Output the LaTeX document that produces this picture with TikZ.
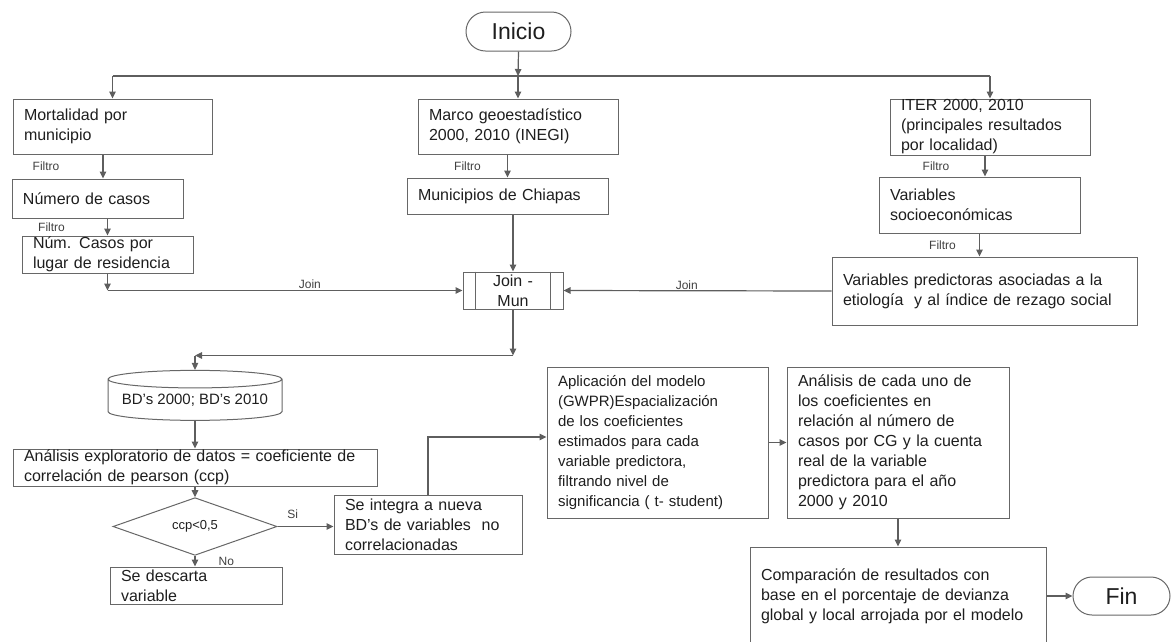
\documentclass[tikz,border=0pt]{standalone}
\usepackage{fontspec}
\setmainfont{Liberation Sans}
\usetikzlibrary{arrows.meta,shapes.geometric,shapes.misc,positioning,calc}
\definecolor{linea}{HTML}{5E5E5E}
\definecolor{borde}{HTML}{676767}
\definecolor{texto}{HTML}{1E1E1E}

\tikzset{
  caja/.style={draw=borde, line width=1pt, rectangle, inner xsep=11pt, inner ysep=0pt, align=left, text=texto, font=\fontsize{16}{20}\selectfont},
  terminal/.style={draw=borde, line width=1pt, rounded rectangle, inner sep=0pt, text=texto, font=\fontsize{23}{26}\selectfont},
  etiq/.style={text=texto!85, font=\fontsize{12}{14}\selectfont, inner sep=1pt},
  flecha/.style={-{Triangle[length=7pt,width=6.5pt]}, draw=linea, line width=1.2pt}
}

\begin{document}
\begin{tikzpicture}[x=1pt, y=-1pt]
    \useasboundingbox (0,0) rectangle (1172,641);
    \clip (0,0) rectangle (1172,641);

    % Inicio and the three sources
    \node[terminal, minimum width=105pt, minimum height=39pt] (inicio) at (518.5,31.5) {Inicio};
    \node[caja, text width=177pt, minimum height=55pt] (mort) at (112.5,126.5) {Mortalidad por\\municipio};
    \node[caja, text width=178pt, minimum height=55pt] (marco) at (518,126.5) {Marco geoestadístico\\2000, 2010 (INEGI)};
    \node[caja, text width=178pt, minimum height=56pt] (iter) at (990,127) {ITER 2000, 2010\\(principales resultados\\por localidad)};

    % Filters
    \node[caja, text width=149pt, minimum height=39pt] (ncasos) at (97.5,198.5) {Número de casos};
    \node[caja, text width=149pt, minimum height=37pt] (ncasosres) at (107.5,254.5) {Núm. Casos por\\lugar de residencia};
    \node[caja, text width=179pt, minimum height=36pt] (munchis) at (507.5,196) {Municipios de Chiapas};
    \node[caja, text width=179pt, minimum height=56pt] (vsoc) at (979.5,205) {Variables\\socioeconómicas};
    \node[caja, text width=283pt, minimum height=68pt] (vpred) at (984.5,291) {Variables predictoras asociadas a la\\etiología~ y al índice de rezago social};

    % Join
    \node[caja, align=center, text width=78pt, minimum height=37pt] (join) at (513,290.5) {Join -\\Mun};
    \draw[borde, line width=1pt] ([xshift=13pt]join.north west) -- ([xshift=13pt]join.south west);
    \draw[borde, line width=1pt] ([xshift=-13pt]join.north east) -- ([xshift=-13pt]join.south east);

    % Database and analysis
    \node[draw=borde, line width=1pt, cylinder, shape border rotate=90, aspect=0.12, minimum width=174pt, minimum height=50pt, inner sep=0pt, text=texto, font=\fontsize{15}{18}\selectfont] (bd) at (195,400) {BD's 2000; BD's 2010};
    \node[caja, text width=342pt, minimum height=37pt] (analisis) at (195,467.5) {Análisis exploratorio de datos = coeficiente de\\correlación de pearson (ccp)};
    \node[draw=borde, line width=1pt, diamond, inner sep=0pt, minimum width=164pt, minimum height=37pt, text=texto, font=\fontsize{13}{15}\selectfont] (ccp) at (195,526.5) {ccp<0,5};
    \node[caja, text width=150pt, minimum height=37pt] (descarta) at (196,585.5) {Se descarta\\variable};
    \node[caja, text width=166pt, minimum height=59pt] (integra) at (428,524.5) {Se integra a nueva\\BD's de variables~ no\\correlacionadas};

    % Model and results
    \node[caja, text width=199pt, minimum height=151pt, font=\fontsize{15}{20}\selectfont] (aplic) at (657.5,442.5) {Aplicación del modelo\\(GWPR)Espacialización\\de los coeficientes\\estimados para cada\\variable predictora,\\filtrando nivel de\\significancia ( t- student)};
    \node[caja, text width=200pt, minimum height=151pt] (cada) at (898,442.5) {Análisis de cada uno de\\los coeficientes en\\relación al número de\\casos por CG y la cuenta\\real de la variable\\predictora para el año\\2000 y 2010};
    \node[caja, text width=274pt, minimum height=98pt] (compara) at (898,596) {Comparación de resultados con\\base en el porcentaje de devianza\\global y local arrojada por el modelo};
    \node[terminal, minimum width=97pt, minimum height=38pt] (fin) at (1121.5,596) {Fin};

    % Branch from Inicio
    \coordinate (rama) at (518,76);
    \draw[flecha] (inicio.south) -- (rama);
    \draw[linea, line width=1.2pt] (rama -| mort.north) -- (rama -| iter.north);
    \draw[flecha] (rama -| mort.north) -- (mort.north);
    \draw[flecha] (rama) -- (marco.north);
    \draw[flecha] (rama -| iter.north) -- (iter.north);

    % Filter arrows
    \draw[flecha] ([xshift=-9.5pt]mort.south) -- node[etiq, left=42pt] {Filtro} ([xshift=-9.5pt]mort.south |- ncasos.north);
    \draw[flecha] (ncasosres.north |- ncasos.south) -- node[etiq, left=41pt] {Filtro} (ncasosres.north);
    \draw[flecha] (marco.south -| munchis.north) -- node[etiq, left=25pt] {Filtro} (munchis.north);
    \draw[flecha] ([xshift=5.5pt]vsoc.north |- iter.south) -- node[etiq, left=34pt] {Filtro} ([xshift=5.5pt]vsoc.north);
    \draw[flecha] (vsoc.south) -- node[etiq, left=22pt] {Filtro} (vsoc.south |- vpred.north);

    % Into Join - Mun
    \coordinate (codo) at (ncasosres.south |- join.west);
    \draw[flecha] (ncasosres.south) -- (codo);
    \draw[flecha] (codo) -- node[etiq, above, pos=0.57] {Join} (join.west);
    \draw[flecha] (join.north |- munchis.south) -- (join.north);
    \draw[flecha] (vpred.west) -- node[etiq, above, pos=0.54] {Join} (join.east);

    % Down to the database
    \coordinate (baja) at ($(join.south)+(0,46)$);
    \draw[flecha] (join.south) -- (baja);
    \draw[flecha] (baja) -- (baja -| bd.north);
    \draw[flecha] (baja -| bd.north) -- (bd.north);
    \draw[flecha] (bd.south) -- (analisis.north);
    \draw[flecha] (analisis.south) -- (ccp.north);

    % Decision
    \draw[flecha] (ccp.south) -- node[etiq, right=22pt] {No} (ccp.south |- descarta.north);
    \draw[flecha] (ccp.east) -- node[etiq, above=6pt, pos=0.27] {Si} (ccp.east -| integra.west);
    \draw[flecha] (integra.north) |- ([yshift=5.5pt]aplic.west);
    \draw[flecha] (aplic.east) -- (cada.west);
    \draw[flecha] (cada.south) -- (compara.north);
    \draw[flecha] (compara.east) -- (fin.west);
\end{tikzpicture}
\end{document}
